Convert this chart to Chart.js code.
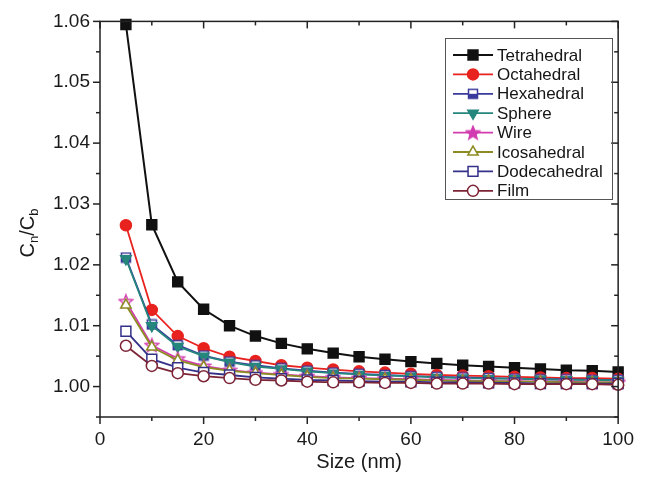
<!DOCTYPE html>
<html>
<head>
<meta charset="utf-8">
<script src="https://cdn.jsdelivr.net/npm/chart.js@4.4.0/dist/chart.umd.min.js"></script>
<style>
  html, body { margin: 0; padding: 0; background: #fff; }
</style>
</head>
<body>
<canvas id="chart" width="645" height="478"></canvas>
<script>
const sizes = [5, 10, 15, 20, 25, 30, 35, 40, 45, 50, 55, 60, 65, 70, 75, 80, 85, 90, 95, 100];

const tetrahedral  = [1.0595, 1.0266, 1.0172, 1.0127, 1.0100, 1.0083, 1.0071, 1.0062, 1.0055, 1.0049, 1.0045, 1.0041, 1.0038, 1.0035, 1.0033, 1.0031, 1.0029, 1.0027, 1.0026, 1.0024];
const octahedral   = [1.0265, 1.0126, 1.0083, 1.0063, 1.0049, 1.0042, 1.0035, 1.0031, 1.0028, 1.0025, 1.0023, 1.0021, 1.0019, 1.0018, 1.0017, 1.0016, 1.0015, 1.0014, 1.0014, 1.0013];
const hexahedral   = [1.0212, 1.0102, 1.0068, 1.0051, 1.0041, 1.0035, 1.0030, 1.0026, 1.0023, 1.0021, 1.0019, 1.0017, 1.0016, 1.0015, 1.0014, 1.0013, 1.0012, 1.0012, 1.0011, 1.0011];
const sphere       = [1.0210, 1.0100, 1.0066, 1.0050, 1.0040, 1.0033, 1.0029, 1.0025, 1.0022, 1.0020, 1.0018, 1.0017, 1.0015, 1.0014, 1.0013, 1.0013, 1.0012, 1.0011, 1.0011, 1.0010];
const wire         = [1.0140, 1.0068, 1.0046, 1.0034, 1.0027, 1.0023, 1.0020, 1.0017, 1.0015, 1.0014, 1.0013, 1.0012, 1.0011, 1.0010, 1.0009, 1.0009, 1.0008, 1.0008, 1.0007, 1.0007];
const icosahedral  = [1.0134, 1.0065, 1.0043, 1.0032, 1.0026, 1.0022, 1.0019, 1.0016, 1.0014, 1.0013, 1.0012, 1.0011, 1.0010, 1.0009, 1.0009, 1.0008, 1.0008, 1.0007, 1.0007, 1.0007];
const dodecahedral = [1.0091, 1.0045, 1.0031, 1.0023, 1.0019, 1.0015, 1.0013, 1.0011, 1.0010, 1.0009, 1.0008, 1.0008, 1.0007, 1.0007, 1.0006, 1.0006, 1.0005, 1.0005, 1.0005, 1.0005];
const film         = [1.0067, 1.0034, 1.0022, 1.0017, 1.0014, 1.0011, 1.0010, 1.0008, 1.0007, 1.0007, 1.0006, 1.0006, 1.0005, 1.0005, 1.0005, 1.0004, 1.0004, 1.0004, 1.0004, 1.0003];

const xTicks = [0, 20, 40, 60, 80, 100];
const yTicks = [1.00, 1.01, 1.02, 1.03, 1.04, 1.05, 1.06];

const FONT = "'Liberation Sans', Arial, sans-serif";

// little marker images for styles chart.js does not have
function makeStar(fill, stroke) {
    const c = document.createElement('canvas');
    c.width = 16; c.height = 16;
    const g = c.getContext('2d');
    g.beginPath();
    for (let i = 0; i < 10; i++) {
        const r = i % 2 ? 3.2 : 7.2;
        const a = -Math.PI / 2 + i * Math.PI / 5;
        g.lineTo(8 + r * Math.cos(a), 8.6 + r * Math.sin(a));
    }
    g.closePath();
    g.fillStyle = fill; g.fill();
    g.lineWidth = 1.3; g.strokeStyle = stroke; g.stroke();
    return c;
}

function makeHalfSquare(color) {
    const c = document.createElement('canvas');
    c.width = 12; c.height = 12;
    const g = c.getContext('2d');
    g.fillStyle = '#fff'; g.fillRect(1, 1, 10, 10);
    g.fillStyle = color; g.fillRect(1, 6, 10, 5);
    g.lineWidth = 1.5; g.strokeStyle = color; g.strokeRect(1.5, 1.5, 9, 9);
    return c;
}

const starOpen = makeStar('#f8d8f0', '#d23cb0');
const starFull = makeStar('#d23cb0', '#d23cb0');
const halfSquare = makeHalfSquare('#3a3a9c');

const series = [
    { label: 'Tetrahedral',  data: tetrahedral,  color: '#111111', style: 'rect',     r: 7,   fill: '#111111' },
    { label: 'Octahedral',   data: octahedral,   color: '#e8221e', style: 'circle',   r: 5.5, fill: '#e8221e' },
    { label: 'Hexahedral',   data: hexahedral,   color: '#3a3a9c', style: halfSquare, r: 6,   fill: '#3a3a9c' },
    { label: 'Sphere',       data: sphere,       color: '#24867c', style: 'triangle', r: 6,   fill: '#24867c', rot: 180 },
    { label: 'Wire',         data: wire,         color: '#d23cb0', style: starOpen,   r: 7,   fill: '#d23cb0', legendStyle: starFull },
    { label: 'Icosahedral',  data: icosahedral,  color: '#8c8c22', style: 'triangle', r: 6,   fill: '#ffffff' },
    { label: 'Dodecahedral', data: dodecahedral, color: '#34308a', style: 'rect',     r: 7,   fill: '#ffffff' },
    { label: 'Film',         data: film,         color: '#7c2436', style: 'circle',   r: 5.5, fill: '#ffffff' }
];

const isMajor = (v, step) => Math.abs(v / step - Math.round(v / step)) < 1e-6;

const frame = {
    id: 'frame',
    afterDraw(chart) {
        const { ctx, chartArea: a, scales: { x, y } } = chart;
        ctx.save();
        ctx.strokeStyle = '#222';
        ctx.lineWidth = 1.5;
        ctx.strokeRect(a.left, a.top, a.right - a.left, a.bottom - a.top);

        const seg = (x1, y1, x2, y2) => {
            ctx.beginPath(); ctx.moveTo(x1, y1); ctx.lineTo(x2, y2); ctx.stroke();
        };
        y.ticks.forEach(t => {
            const py = y.getPixelForValue(t.value);
            const len = isMajor(t.value, 0.01) ? 7 : 4;
            seg(a.left - len, py, a.left, py);
            seg(a.right - len, py, a.right, py);
        });
        x.ticks.forEach(t => {
            const px = x.getPixelForValue(t.value);
            const len = isMajor(t.value, 20) ? 7 : 4;
            seg(px, a.bottom, px, a.bottom + len);
            seg(px, a.top, px, a.top + len);
        });

        // y title with subscripts
        ctx.save();
        ctx.translate(28, 233);
        ctx.rotate(-Math.PI / 2);
        ctx.fillStyle = '#1a1a1a';
        ctx.textBaseline = 'middle';
        const big = '20px ' + FONT, small = '13px ' + FONT;
        const parts = [['C', big, 0], ['n', small, 6], ['/C', big, 0], ['b', small, 6]];
        let w = 0;
        parts.forEach(p => { ctx.font = p[1]; w += ctx.measureText(p[0]).width; });
        let cx = -w / 2;
        parts.forEach(p => {
            ctx.font = p[1];
            ctx.fillText(p[0], cx, p[2]);
            cx += ctx.measureText(p[0]).width;
        });
        ctx.restore();

        // legend box
        const lx = 445, ly = 38, lw = 167, lh = 161;
        ctx.lineWidth = 1;
        ctx.strokeStyle = '#555';
        ctx.strokeRect(lx + 0.5, ly + 0.5, lw, lh);
        ctx.font = '17px ' + FONT;
        ctx.textBaseline = 'middle';
        series.forEach((s, i) => {
            const ry = 55 + i * 19.4;
            ctx.strokeStyle = s.color;
            ctx.lineWidth = 1.8;
            seg(453, ry, 493, ry);
            ctx.fillStyle = s.fill;
            ctx.lineWidth = 1.5;
            Chart.helpers.drawPoint(ctx, {
                pointStyle: s.legendStyle || s.style,
                rotation: s.rot || 0,
                radius: s.r,
                borderWidth: 1.5
            }, 473, ry);
            ctx.fillStyle = '#151515';
            ctx.fillText(s.label, 497, ry + 1);
        });
        ctx.restore();
    }
};

new Chart(document.getElementById('chart'), {
    type: 'line',
    data: {
        datasets: series.map((s, i) => ({
            label: s.label,
            data: sizes.map((v, k) => ({ x: v, y: s.data[k] })),
            borderColor: s.color,
            backgroundColor: s.fill,
            pointBackgroundColor: s.fill,
            pointBorderColor: s.color,
            pointStyle: s.style,
            pointRotation: s.rot || 0,
            pointRadius: s.r,
            pointBorderWidth: 1.5,
            borderWidth: i === 0 ? 2 : 1.8,
            tension: 0,
            clip: false,
            order: series.length - i
        }))
    },
    options: {
        responsive: false,
        animation: false,
        layout: { padding: { top: 18, right: 25 } },
        plugins: { legend: { display: false }, tooltip: { enabled: false } },
        scales: {
            x: {
                type: 'linear',
                min: 0, max: 100,
                afterFit: s => { s.height = 61; },
                grid: { display: false, drawTicks: false },
                border: { display: false },
                ticks: {
                    stepSize: 10,
                    padding: 11,
                    maxRotation: 0,
                    autoSkip: false,
                    color: '#1a1a1a',
                    font: { size: 19, family: FONT },
                    callback: v => xTicks.includes(v) ? String(v) : ''
                },
                title: {
                    display: true,
                    text: 'Size (nm)',
                    color: '#1a1a1a',
                    font: { size: 20, family: FONT },
                    padding: { top: 0, bottom: 4 }
                }
            },
            y: {
                min: 0.995, max: 1.06,
                afterFit: s => { s.width = 100; },
                grid: { display: false, drawTicks: false },
                border: { display: false },
                ticks: {
                    stepSize: 0.005,
                    padding: 10,
                    autoSkip: false,
                    color: '#1a1a1a',
                    font: { size: 19, family: FONT },
                    callback: v => {
                        const hit = yTicks.find(t => Math.abs(t - v) < 1e-6);
                        return hit !== undefined ? hit.toFixed(2) : '';
                    }
                }
            }
        }
    },
    plugins: [frame]
});
</script>
</body>
</html>
